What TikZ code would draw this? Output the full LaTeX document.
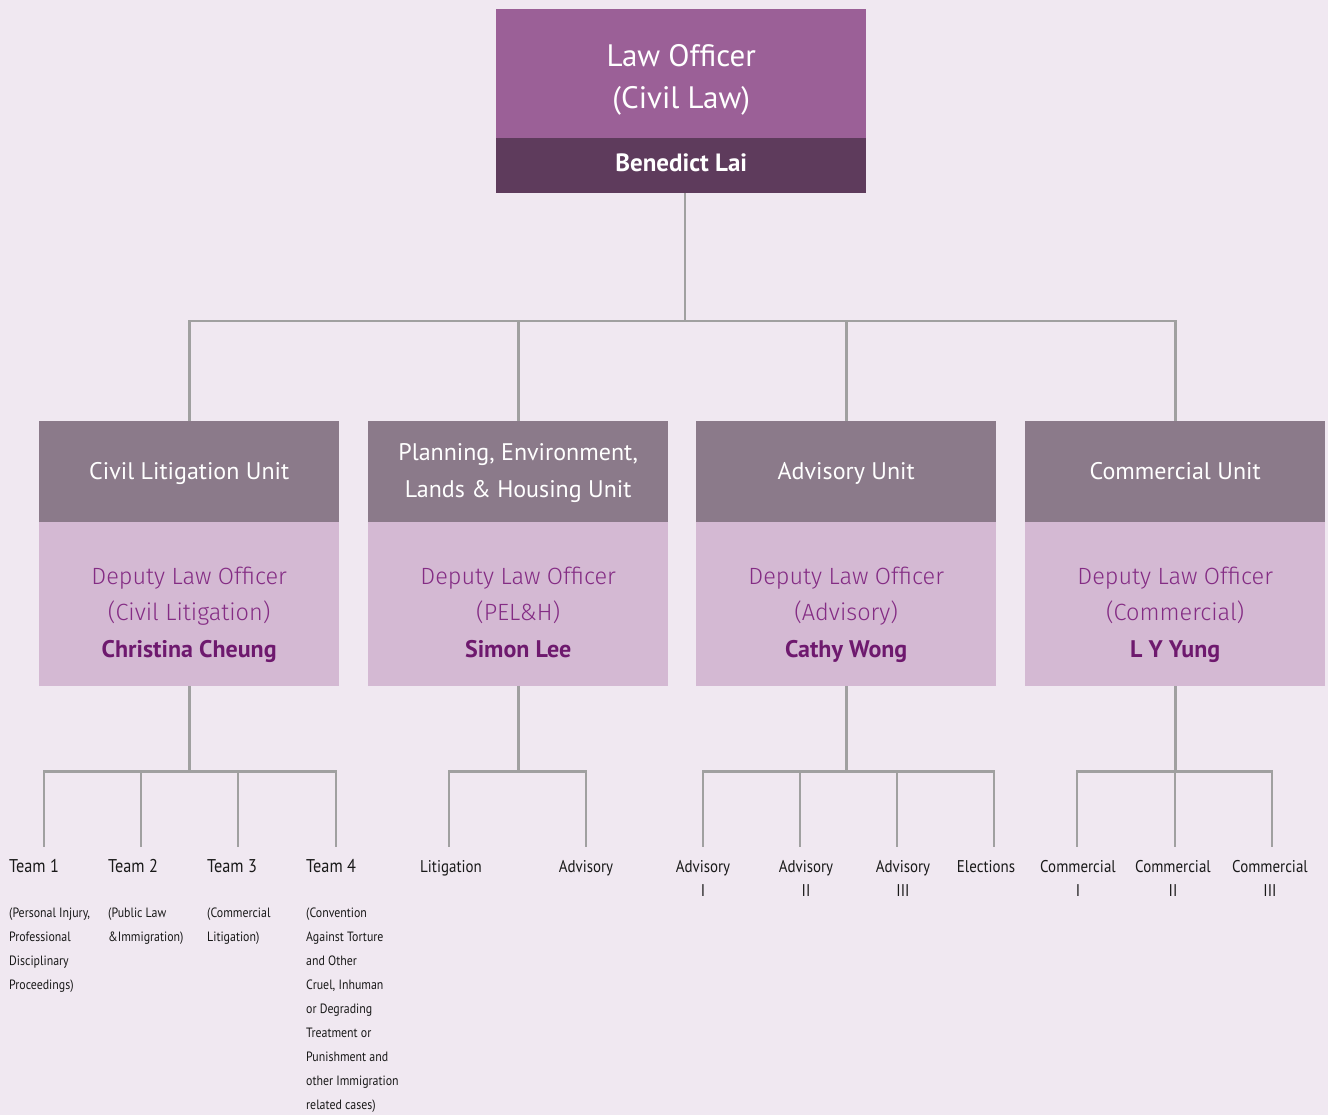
\documentclass[tikz,border=0pt]{standalone}
\usepackage{fontspec}
\setmainfont{PT Sans}
\newfontfamily\lightface{Fira Sans}[UprightFont={* Light}]
\newfontfamily\narrowface{PT Sans}[FakeStretch=0.88]
\definecolor{bg}{RGB}{240,232,241}
\definecolor{chief}{RGB}{155,96,151}
\definecolor{chiefname}{RGB}{94,59,92}
\definecolor{unithead}{RGB}{139,122,138}
\definecolor{unitbody}{RGB}{212,185,211}
\definecolor{deputy}{RGB}{132,44,132}
\definecolor{deputyname}{RGB}{110,25,110}
\definecolor{wire}{RGB}{160,160,160}
\definecolor{ink}{RGB}{25,25,25}
\tikzset{
  box/.style={draw=none, inner sep=0pt, align=center, anchor=north west},
  chiefbox/.style={box, fill=chief, minimum width=370pt, minimum height=129pt},
  chieftext/.style={inner sep=0pt, align=center, text=white, yshift=-5pt,
    font=\fontsize{31}{42}\selectfont},
  chiefnamebox/.style={box, fill=chiefname, text=white, minimum width=370pt, minimum height=55pt,
    font=\fontsize{25}{30}\selectfont\bfseries},
  headbox/.style={box, fill=unithead, text=white, minimum width=300pt, minimum height=101pt,
    font=\fontsize{24}{37}\selectfont},
  bodybox/.style={box, fill=unitbody, minimum width=300pt, minimum height=164pt},
  deputytext/.style={inner sep=0pt, align=center, text=deputy, yshift=-9pt,
    font=\fontsize{23.5}{36.5}\selectfont\lightface},
  conn/.style={draw=wire, line width=2.6pt},
  team/.style={inner sep=0pt, text=ink, anchor=base west, font=\fontsize{18.5}{24}\selectfont\narrowface},
  teamc/.style={inner sep=0pt, text=ink, anchor=north, align=center, font=\fontsize{17}{24}\selectfont\narrowface},
  note/.style={inner sep=0pt, text=ink, anchor=north west, align=left, font=\fontsize{13.5}{24}\selectfont\narrowface}
}
\newcommand{\officer}[1]{{\fontsize{24}{36.5}\selectfont\normalfont\bfseries\color{deputyname}#1}}
\begin{document}
\begin{tikzpicture}[x=1pt,y=-1pt]
\fill[bg] (0,0) rectangle (1328,1115);
\useasboundingbox (0,0) rectangle (1328,1115);

% head of the division
\node[chiefbox, label={[chieftext]center:\strut Law Officer\\\strut(Civil Law)}] (lo) at (496,9) {};
\node[chiefnamebox] (loname) at (496,138) {\strut Benedict Lai};

% units: title band and deputy panel
\node[headbox] (u1h) at (39,421) {\strut Civil Litigation Unit};
\node[bodybox, label={[deputytext]center:\strut Deputy Law Officer\\\strut(Civil Litigation)\\\strut\officer{Christina Cheung}}] (u1b) at (39,522) {};
\node[headbox] (u2h) at (368,421) {\strut Planning, Environment,\\\strut Lands \& Housing Unit};
\node[bodybox, label={[deputytext]center:\strut Deputy Law Officer\\\strut(PEL\&H)\\\strut\officer{Simon Lee}}] (u2b) at (368,522) {};
\node[headbox] (u3h) at (696,421) {\strut Advisory Unit};
\node[bodybox, label={[deputytext]center:\strut Deputy Law Officer\\\strut(Advisory)\\\strut\officer{Cathy Wong}}] (u3b) at (696,522) {};
\node[headbox] (u4h) at (1025,421) {\strut Commercial Unit};
\node[bodybox, label={[deputytext]center:\strut Deputy Law Officer\\\strut(Commercial)\\\strut\officer{L Y Yung}}] (u4b) at (1025,522) {};

% upper tree
\coordinate (j0) at (685,321);
\draw[conn] (loname.south -| j0) -- (j0);
\draw[conn] (j0) -| (u1h.north);
\draw[conn] (j0) -| (u2h.north);
\draw[conn] (j0) -| (u3h.north);
\draw[conn] (j0) -| (u4h.north);

% junctions under each unit
\path (u1b.south) ++(0,85) coordinate (c1);
\path (u2b.south) ++(0,85) coordinate (c2);
\path (u3b.south) ++(0,85) coordinate (c3);
\path (u4b.south) ++(0,85) coordinate (c4);
\draw[conn] (u1b.south) -- (c1);
\draw[conn] (u2b.south) -- (c2);
\draw[conn] (u3b.south) -- (c3);
\draw[conn] (u4b.south) -- (c4);

% team line ends
\coordinate (e11) at (44,847);  \coordinate (e12) at (141,847);
\coordinate (e13) at (238,847); \coordinate (e14) at (336,847);
\coordinate (e21) at (449,847); \coordinate (e22) at (586,847);
\coordinate (e31) at (703,847); \coordinate (e32) at (800,847);
\coordinate (e33) at (897,847); \coordinate (e34) at (994,847);
\coordinate (e41) at (1077,847); \coordinate (e42) at (1175,847);
\coordinate (e43) at (1272,847);
\foreach \e in {11,12,13,14} \draw[conn] (c1) -| (e\e);
\foreach \e in {21,22} \draw[conn] (c2) -| (e\e);
\foreach \e in {31,32,33,34} \draw[conn] (c3) -| (e\e);
\foreach \e in {41,42,43} \draw[conn] (c4) -| (e\e);

% civil litigation teams
\node[team] (t11) at (9,872) {Team 1};
\node[team] (t12) at (108,872) {Team 2};
\node[team] (t13) at (207,872) {Team 3};
\node[team] (t14) at (306,872) {Team 4};
\node[note] (d11) at (9,908) {(Personal Injury,\\Professional\\Disciplinary\\Proceedings)};
\node[note] (d12) at (108,908) {(Public Law\\\&Immigration)};
\node[note] (d13) at (207,908) {(Commercial\\Litigation)};
\node[note] (d14) at (306,908) {(Convention\\Against Torture\\and Other\\Cruel, Inhuman\\or Degrading\\Treatment or\\Punishment and\\other Immigration\\related cases)};

% PEL&H teams
\node[teamc] (t21) at (451,860) {Litigation};
\node[teamc] (t22) at (586,860) {Advisory};

% advisory teams
\node[teamc] (t31) at (703,860) {Advisory\\I};
\node[teamc] (t32) at (806,860) {Advisory\\II};
\node[teamc] (t33) at (903,860) {Advisory\\III};
\node[teamc] (t34) at (986,860) {Elections};

% commercial teams
\node[teamc] (t41) at (1078,860) {Commercial\\I};
\node[teamc] (t42) at (1173,860) {Commercial\\II};
\node[teamc] (t43) at (1270,860) {Commercial\\III};
\end{tikzpicture}
\end{document}
